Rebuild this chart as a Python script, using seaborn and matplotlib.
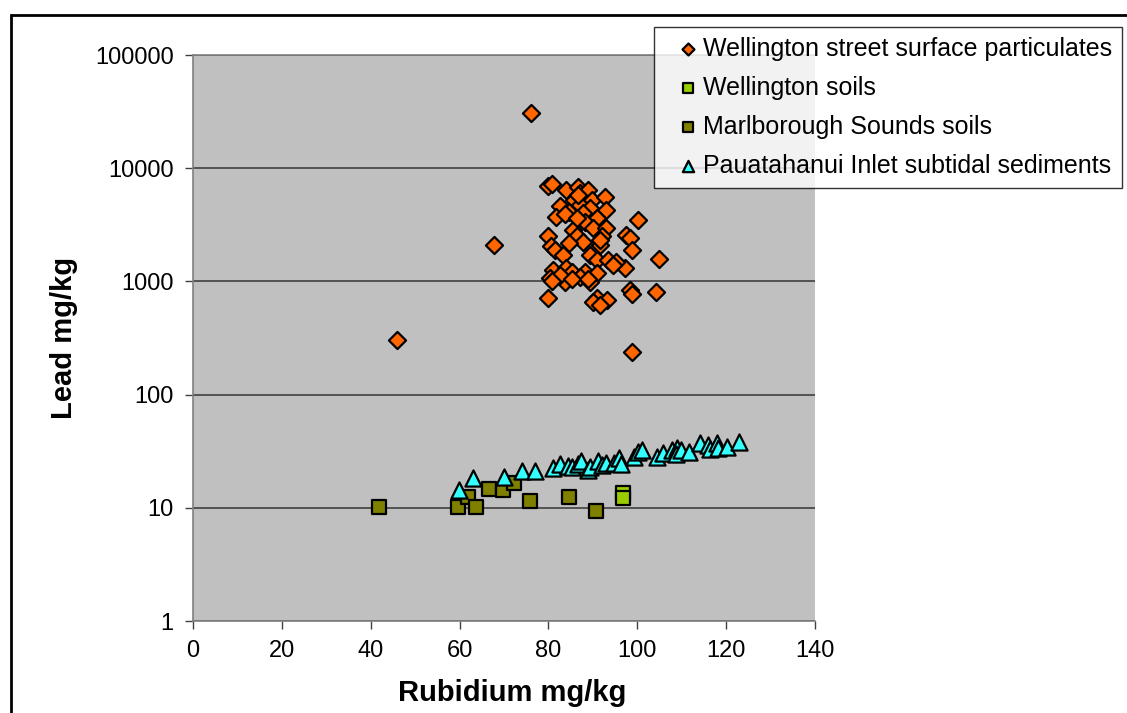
import matplotlib
matplotlib.use("Agg")
import matplotlib.pyplot as plt
import matplotlib.patches as mpatches
from matplotlib.ticker import FixedLocator, NullLocator
import seaborn as sns
import pandas as pd

# ---- data (Rubidium mg/kg, Lead mg/kg) ----
street_rb = [76.1, 45.9, 67.7, 98.8, 104.2, 104.9, 100.2,
             79.9, 80.8, 84.0, 86.7, 87.1, 88.9, 85.8, 89.8, 92.7,
             82.6, 87.1, 89.4, 84.6, 81.7, 87.8, 93.0, 90.9, 88.2,
             90.0, 85.5, 93.0, 79.9, 86.4, 92.1, 97.5, 98.4, 87.8,
             80.6, 91.6, 81.5, 98.8, 83.3, 89.4, 90.9, 93.4, 97.2,
             95.2, 81.0, 84.0, 85.3, 88.2, 90.9, 80.4, 87.1, 83.7,
             89.4, 98.4, 98.8, 90.9, 79.9, 90.0, 93.2, 91.6, 82.6,
             85.3, 88.9, 80.8, 83.7, 86.4, 91.6, 94.5, 86.7, 84.6]
street_pb = [30700, 304, 2100, 238, 805, 1580, 3480,
             6960, 7250, 6420, 6820, 6040, 6420, 5240, 5240, 5570,
             4640, 4730, 4450, 4100, 3700, 4020, 4270, 3630, 3350,
             2960, 2850, 2960, 2520, 2520, 2520, 2570, 2420, 2230,
             2060, 2100, 1890, 1890, 1710, 1710, 1545, 1545, 1310,
             1480, 1260, 1310, 1210, 1210, 1190, 1070, 1090, 990,
             990, 840, 775, 715, 715, 660, 685, 620, 1150,
             1050, 1040, 1000, 3900, 3600, 2300, 1400, 5800, 2200]

wsoil_rb = [96.8, 96.8]
wsoil_pb = [13.5, 12.3]

msoil_rb = [41.9, 59.6, 61.9, 63.7, 66.6, 69.8, 72.2, 75.9, 84.6, 90.7]
msoil_pb = [10.2, 10.2, 12.5, 10.2, 14.7, 14.4, 16.6, 11.5, 12.5, 9.4]

paua_rb = [59.9, 63.0, 70.0, 74.0, 77.0, 81.0, 82.6, 84.3, 85.2, 86.7,
           87.3, 88.9, 89.4, 91.1, 92.0, 93.0, 94.8, 95.9, 96.3, 99.3,
           100.2, 101.0, 104.4, 105.8, 107.8, 109.0, 108.8, 109.8, 111.6,
           114.1, 115.9, 116.4, 117.9, 118.2, 120.2, 122.9]
paua_pb = [14.5, 18.3, 18.7, 21.0, 21.0, 22.5, 24.3, 23.4, 22.9, 24.3,
           25.8, 21.6, 22.9, 25.8, 24.0, 25.0, 24.9, 27.5, 24.3, 28.1,
           31.0, 32.4, 28.1, 30.5, 32.4, 33.7, 30.0, 32.4, 31.0,
           37.2, 35.8, 33.0, 37.2, 34.0, 34.4, 38.0]

series_names = ["Wellington street surface particulates", "Wellington soils",
                "Marlborough Sounds soils", "Pauatahanui Inlet subtidal sediments"]
x_ticks = [0, 20, 40, 60, 80, 100, 120, 140]
y_ticks = [1, 10, 100, 1000, 10000, 100000]
y_tick_labels = ["1", "10", "100", "1000", "10000", "100000"]

sns.set_style("white")
plt.rcParams['font.family'] = ['Liberation Sans', 'DejaVu Sans']
plt.rcParams['text.color'] = 'black'
plt.rcParams['axes.labelcolor'] = 'black'
plt.rcParams['xtick.color'] = 'black'
plt.rcParams['ytick.color'] = 'black'

fig = plt.figure(figsize=(11.27, 7.13), dpi=100)
ax = fig.add_axes([193/1127, 1-621/713, (815-193)/1127, (621-55)/713])
ax.set_facecolor("#C0C0C0")

specs = [
    (street_rb, street_pb, "D", "#FF6600", 76),
    (wsoil_rb, wsoil_pb, "s", "#99CC00", 100),
    (msoil_rb, msoil_pb, "s", "#808000", 100),
    (paua_rb, paua_pb, "^", "#33FFFF", 135),
]
for (xs, ys, mk, col, sz), name in zip(specs, series_names):
    df = pd.DataFrame({"x": xs, "y": ys})
    sns.scatterplot(data=df, x="x", y="y", marker=mk, color=col, s=sz,
                    edgecolor="black", linewidth=1.6, ax=ax, label=name,
                    zorder=3)

ax.set_yscale("log")
ax.set_xlim(0, 140)
ax.set_ylim(1, 100000)
ax.xaxis.set_major_locator(FixedLocator(x_ticks))
ax.set_xticklabels([str(t) for t in x_ticks])
ax.yaxis.set_major_locator(FixedLocator(y_ticks))
ax.yaxis.set_minor_locator(NullLocator())
ax.set_yticklabels(y_tick_labels)
ax.grid(axis="y", color="#404040", linewidth=1.2, zorder=1)
ax.grid(axis="x", visible=False)
ax.set_axisbelow(True)

for side in ["left", "bottom", "top", "right"]:
    ax.spines[side].set_color("#808080")
    ax.spines[side].set_linewidth(1.2)
ax.spines["right"].set_visible(False)

ax.tick_params(axis="both", which="major", direction="out", length=6,
               width=1, color="#404040", labelcolor="black", labelsize=17,
               pad=8, left=True, bottom=True)

ax.set_xlabel("Rubidium mg/kg", fontsize=21, fontweight="bold", color="black")
ax.set_ylabel("Lead mg/kg", fontsize=21, fontweight="bold", labelpad=12,
              color="black")
ax.xaxis.set_label_coords(0.513, -0.102)

leg = ax.legend(loc="upper left", bbox_to_anchor=(654/1127, 1-27/713),
                bbox_transform=fig.transFigure, borderaxespad=0,
                frameon=True, fancybox=False,
                fontsize=18, handletextpad=-0.35, borderpad=0.4,
                labelspacing=0.6, handlelength=1.9, markerscale=0.7)
leg.get_frame().set_edgecolor("black")
leg.get_frame().set_linewidth(1.0)
leg.get_frame().set_facecolor("white")
for t in leg.get_texts():
    t.set_color("black")

fig.patches.append(mpatches.Rectangle((11/1127, -0.2), 1.5, 1.2 - 15/713,
                                      transform=fig.transFigure, fill=False,
                                      edgecolor="black", linewidth=2))

fig.savefig("out.png", dpi=100)
